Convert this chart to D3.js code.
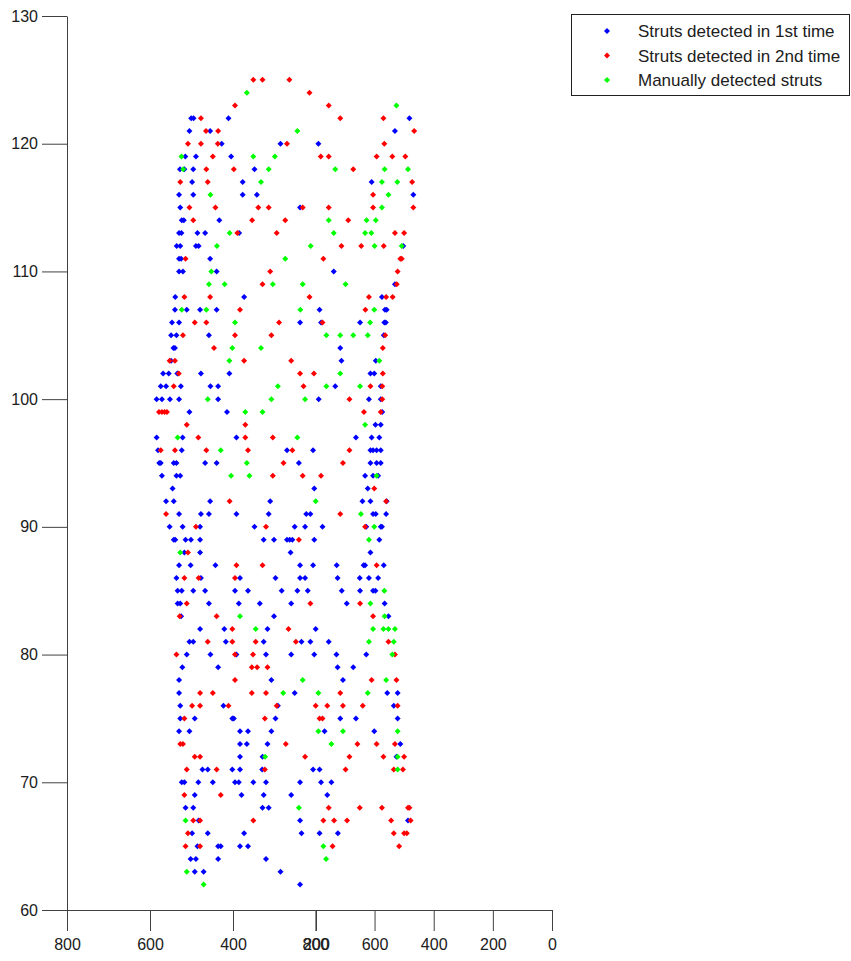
<!DOCTYPE html>
<html>
<head>
<meta charset="utf-8">
<script src="https://cdn.jsdelivr.net/npm/d3@7"></script>
<style>
  html, body { margin: 0; padding: 0; background: #fff; }
  svg { display: block; }
  text { font-family: "Liberation Sans", Arial, sans-serif; }
</style>
</head>
<body>
<svg id="chart" width="851" height="961"></svg>
<script>
// ---- DATA (rows: [y, [x values...]]) ----
const seriesNames = ["Struts detected in 1st time", "Struts detected in 2nd time", "Manually detected struts"];
const seriesColors = ["#0000ff", "#ff0000", "#00ff00"];
const yTicks = [60, 70, 80, 90, 100, 110, 120, 130];
const xTicksMain = [0, 200, 400, 600, 800];
const xTicksSecond = [800, 600, 400, 200];

const blueRows = [
  [122, [1220, 1212, 1094, 482]],
  [121, [1226, 1156, 531]],
  [120, [1117, 918, 790]],
  [119, [1240, 1204, 1085]],
  [118, [1258, 1243, 1213, 1006]],
  [117, [1217, 1046, 610]],
  [116, [1261, 1213, 1046, 998, 469]],
  [115, [1257, 852]],
  [114, [1252, 1245, 1125]],
  [113, [1261, 1253, 1199, 1173, 1058]],
  [112, [1269, 1257, 1204, 1195, 503]],
  [111, [1261, 1254, 1156]],
  [110, [1261, 1248, 1134, 738]],
  [109, [531]],
  [108, [1274, 1041, 575]],
  [107, [1275, 1235, 1190, 1134, 786, 565, 559]],
  [106, [1285, 1261, 852, 781, 649, 567, 562]],
  [105, [1288, 1270, 1160, 569]],
  [104, [1280, 1275, 716]],
  [103, [1288, 712, 596]],
  [102, [1315, 1296, 1267, 1187, 1091, 614, 601]],
  [101, [1323, 1305, 1255, 1155, 1129, 733, 579]],
  [100, [1337, 1319, 1292, 1261, 1129, 789, 619, 579]],
  [99, [1226, 1099, 574]],
  [98, [597, 579]],
  [97, [1337, 1249, 1067, 663, 610, 584]],
  [96, [1332, 1252, 896, 808, 614, 605, 593, 579]],
  [95, [1328, 1323, 1279, 1270, 1173, 1134, 856, 614, 593, 579]],
  [94, [1319, 1270, 1257, 632, 605, 588]],
  [93, [1283, 804, 623]],
  [92, [1305, 1279, 1156, 953, 641, 614, 559]],
  [91, [1261, 1187, 1160, 1067, 958, 831, 817, 605, 596, 561]],
  [90, [1293, 1249, 1190, 1006, 870, 835, 776, 628, 579, 575]],
  [89, [1279, 1274, 1239, 1221, 1190, 975, 940, 896, 887, 878, 804, 584]],
  [88, [1243, 1190, 884, 614]],
  [87, [1261, 1222, 1138, 852, 808, 728, 637, 632, 569]],
  [86, [1270, 1187, 1055, 935, 852, 835, 725, 650, 619, 588]],
  [85, [1266, 1252, 1213, 1173, 1072, 1028, 914, 861, 826, 711, 649, 605, 597]],
  [84, [1266, 1257, 1160, 1059, 988, 882, 694, 566]],
  [83, [1254, 940, 553]],
  [82, [1190, 1108, 962, 799]],
  [81, [1226, 1213, 1103, 975, 847, 817, 755]],
  [80, [1235, 1155, 1067, 967, 882, 804, 729, 628]],
  [79, [1250, 1129, 725, 672]],
  [78, [1261, 949, 707]],
  [77, [1261, 870, 557, 522]],
  [76, [1257, 1111, 927, 535]],
  [75, [1257, 1208, 1081, 1076, 935, 716, 663, 522]],
  [74, [1261, 1226, 1055, 1028, 949, 769, 601]],
  [73, [1055, 1032, 962, 513]],
  [72, [1055, 979, 526]],
  [71, [1182, 1164, 1081, 1055, 980, 808, 786]],
  [70, [1252, 1243, 1196, 1147, 1072, 1059, 1010, 967, 852, 781, 746]],
  [69, [1208, 1050, 975, 882, 760]],
  [68, [1239, 1213, 979, 958]],
  [67, [1195, 852, 487]],
  [66, [1217, 1164, 1041, 847, 786, 724]],
  [65, [1199, 1129, 1120, 1055, 1028]],
  [64, [1222, 1204, 1129, 967]],
  [63, [1208, 1178, 918]],
  [62, [852]]
];

const redRows = [
  [125, [1010, 979, 888]],
  [124, [820]],
  [123, [1072, 755]],
  [122, [1187, 716, 570]],
  [121, [1170, 1129, 466]],
  [120, [1231, 1187, 1130, 896, 567]],
  [119, [1147, 782, 755, 593, 540, 496]],
  [118, [1169, 1076, 672]],
  [117, [1257, 1164, 473]],
  [116, [605]],
  [115, [1226, 1138, 993, 958, 843, 755, 605, 469]],
  [114, [1213, 1014, 902, 689]],
  [113, [1064, 931, 531, 500]],
  [112, [712, 645, 569]],
  [111, [1239, 773, 513, 508]],
  [110, [953, 522]],
  [109, [979, 525]],
  [108, [1243, 1156, 820, 619, 561, 539]],
  [107, [1055, 631]],
  [106, [1208, 1169, 923, 776]],
  [105, [1248, 1072, 949, 564]],
  [104, [1143, 572]],
  [103, [1293, 1275, 1041, 882]],
  [102, [1262, 852, 805, 572]],
  [101, [1279, 840, 614, 574]],
  [100, [685, 574]],
  [99, [1329, 1319, 1310, 1302, 636, 579]],
  [98, [1235, 1037]],
  [97, [1196, 1037, 944]],
  [96, [1323, 1275, 1169, 1028, 878, 685]],
  [95, [908, 707]],
  [94, [944, 843, 781]],
  [93, [601]],
  [92, [1090, 561]],
  [91, [1305, 716]],
  [90, [1204, 967, 632]],
  [89, [856]],
  [88, [1231]],
  [87, [1067, 979, 593]],
  [86, [1243, 1195, 1072]],
  [84, [1235, 817, 649]],
  [83, [1259, 1134, 605]],
  [82, [1081, 891]],
  [81, [1164, 1081, 1002, 866, 553]],
  [80, [1270, 1072, 1011, 531]],
  [79, [1015, 997, 962]],
  [78, [1072, 610, 526]],
  [77, [1190, 1147, 1015, 967, 716]],
  [76, [1217, 1190, 1094, 931, 799, 760, 707, 640, 522]],
  [75, [1243, 971, 786, 776]],
  [73, [1257, 1248, 900, 658, 593, 531]],
  [72, [1208, 1190, 835, 685, 570, 500]],
  [71, [1235, 1134, 971, 698, 535, 504]],
  [69, [1243, 1120]],
  [68, [755, 650, 575, 487, 482]],
  [67, [1213, 1190, 1010, 773, 737, 693, 544, 478]],
  [66, [1231, 535, 500, 491]],
  [65, [1239, 1190, 742, 517]]
];

const greenRows = [
  [124, [1032]],
  [123, [526]],
  [121, [861]],
  [119, [1253, 1010, 937]],
  [118, [1247, 958, 733, 566, 487]],
  [117, [984, 575, 523]],
  [116, [1155, 553]],
  [115, [575]],
  [114, [755, 627, 596]],
  [113, [1090, 738, 632, 611]],
  [112, [1133, 816, 600, 508]],
  [111, [902]],
  [110, [1152]],
  [109, [1160, 1107, 944, 843, 698]],
  [107, [1252, 1169, 851, 601]],
  [106, [1072, 615]],
  [105, [763, 716, 672, 623]],
  [104, [1081, 984]],
  [103, [1091, 584]],
  [102, [716]],
  [101, [927, 763, 649]],
  [100, [1164, 949, 835]],
  [99, [1037, 979]],
  [98, [632]],
  [97, [1266, 861]],
  [96, [1120]],
  [95, [1032]],
  [94, [1085, 1023, 593]],
  [92, [799]],
  [91, [646]],
  [90, [601]],
  [89, [619]],
  [88, [1257]],
  [85, [567]],
  [84, [614]],
  [83, [1055, 566]],
  [82, [1002, 605, 570, 553, 531]],
  [81, [619, 535]],
  [80, [540]],
  [78, [843, 561]],
  [77, [909, 790, 623]],
  [74, [790, 707, 522]],
  [73, [746]],
  [72, [970, 522]],
  [71, [522]],
  [68, [856]],
  [67, [1239]],
  [65, [773]],
  [64, [764]],
  [63, [1235]],
  [62, [1178]]
];

// ---- CHART ----
const svg = d3.select("#chart");
const axisColor = "#404040";
const textColor = "#202020";

const x = d3.scaleLinear().domain([1640, 0]).range([67, 552]);
const x2 = d3.scaleLinear().domain([800, 0]).range([67, 399]);
const y = d3.scaleLinear().domain([60, 130]).range([910, 16]);

function flatten(rows) {
  const out = [];
  rows.forEach(([yy, xs]) => xs.forEach(xx => out.push({x: xx, y: yy})));
  return out;
}
const allSeries = [flatten(blueRows), flatten(redRows), flatten(greenRows)];

// Y axis
const yAxis = d3.axisLeft(y).tickValues(yTicks).tickSize(25).tickSizeOuter(0).tickPadding(4);
const gy = svg.append("g").attr("transform", "translate(67,0)").call(yAxis);
gy.select(".domain").attr("stroke", axisColor);
gy.selectAll(".tick line").attr("stroke", axisColor);
gy.selectAll(".tick text").attr("fill", textColor).style("font-size", "16px");

// X axes (two overlapping scales on the same baseline)
const xAxis = d3.axisBottom(x).tickValues(xTicksMain).tickSize(21).tickSizeOuter(0).tickPadding(8);
const gx = svg.append("g").attr("transform", "translate(0,910)").call(xAxis);
gx.select(".domain").attr("d", "M42,0.5H" + x(0));
gx.select(".domain").attr("stroke", axisColor);
gx.selectAll(".tick line").attr("stroke", axisColor);
gx.selectAll(".tick text").attr("fill", textColor).style("font-size", "16px");

const xAxis2 = d3.axisBottom(x2).tickValues(xTicksSecond).tickSize(21).tickSizeOuter(0).tickPadding(8);
const gx2 = svg.append("g").attr("transform", "translate(0,910)").call(xAxis2);
gx2.select(".domain").remove();
gx2.selectAll(".tick line").attr("stroke", axisColor);
gx2.selectAll(".tick text").attr("fill", textColor).style("font-size", "16px");

// Points
const marker = "M0,-3L3,0L0,3L-3,0Z";
allSeries.forEach((pts, i) => {
  svg.append("g").selectAll("path")
    .data(pts)
    .enter().append("path")
    .attr("d", marker)
    .attr("transform", d => `translate(${x(d.x)},${y(d.y)})`)
    .attr("fill", seriesColors[i]);
});

// Legend
const lg = svg.append("g");
lg.append("rect").attr("x", 571.5).attr("y", 14.5).attr("width", 278).attr("height", 81)
  .attr("fill", "#fff").attr("stroke", "#202020");
seriesNames.forEach((name, i) => {
  const cy = 31 + i * 24.5;
  lg.append("path").attr("d", marker).attr("transform", `translate(607,${cy})`).attr("fill", seriesColors[i]);
  lg.append("text").attr("x", 638).attr("y", cy + 6).attr("fill", textColor)
    .style("font-size", "17px").text(name);
});
</script>
</body>
</html>
